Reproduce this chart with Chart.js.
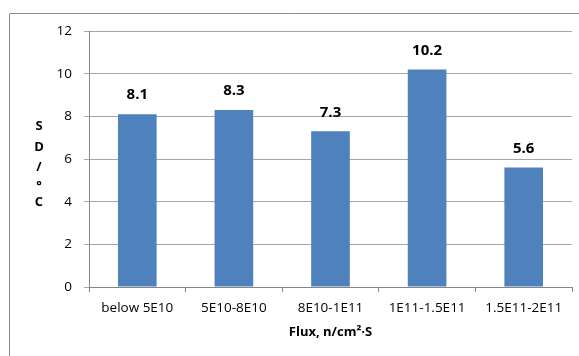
<!DOCTYPE html>
<html lang="en">
<head>
    <meta charset="UTF-8">
    <title>SD vs Flux</title>
    <script src="https://cdn.jsdelivr.net/npm/chart.js@4/dist/chart.umd.min.js"></script>
    <style>
        html, body { margin: 0; padding: 0; background: #fff; }
        #chart { display: block; }
    </style>
</head>
<body>
    <canvas id="chart" width="579" height="356"></canvas>
    <script>
        let categories = ['below 5E10', '5E10-8E10', '8E10-1E11', '1E11-1.5E11', '1.5E11-2E11'];
        let sdValues = [8.1, 8.3, 7.3, 10.2, 5.6];
        let yTicks = [0, 2, 4, 6, 8, 10, 12];
        let yTitle = ['S', 'D', '/', '°', 'C'];
        let xTitle = 'Flux, n/cm²·S';

        const fontFam = "'Open Sans', 'Liberation Sans', sans-serif";

        // outer frame, stacked y title and value labels
        const extras = {
            id: 'extras',
            beforeDraw(chart) {
                const c = chart.ctx;
                c.save();
                c.strokeStyle = '#8c8c8c';
                c.lineWidth = 1;
                c.beginPath();
                c.moveTo(9.5, 356);
                c.lineTo(9.5, 13.5);
                c.lineTo(579, 13.5);
                c.stroke();
                c.restore();
            },
            afterDatasetsDraw(chart) {
                const c = chart.ctx;
                c.save();
                c.fillStyle = '#000';
                c.textAlign = 'center';
                c.textBaseline = 'middle';
                c.font = 'bold 13px ' + fontFam;
                const ys = [126, 147, 167, 186, 202];
                yTitle.forEach((t, i) => c.fillText(t, 39, ys[i]));
                c.font = 'bold 15px ' + fontFam;
                const meta = chart.getDatasetMeta(0);
                meta.data.forEach((bar, i) => {
                    c.fillText(sdValues[i].toFixed(1), bar.x, bar.y - 19);
                });
                c.restore();
            }
        };

        new Chart(document.getElementById('chart'), {
            type: 'bar',
            data: {
                labels: categories,
                datasets: [{
                    data: sdValues,
                    backgroundColor: '#4f81bd',
                    borderWidth: 0,
                    barPercentage: 0.4,
                    categoryPercentage: 1
                }]
            },
            options: {
                responsive: false,
                animation: false,
                layout: { padding: { left: 0, right: 7, top: 31, bottom: 0 } },
                plugins: {
                    legend: { display: false },
                    tooltip: { enabled: false }
                },
                scales: {
                    x: {
                        afterFit(s) { s.height = 69; },
                        grid: {
                            offset: true,
                            drawOnChartArea: false,
                            tickLength: 5,
                            color: '#868686'
                        },
                        border: { color: '#868686' },
                        ticks: {
                            color: '#000',
                            padding: 8,
                            maxRotation: 0,
                            font: { family: fontFam, size: 13.5 }
                        },
                        title: {
                            display: true,
                            text: xTitle,
                            color: '#000',
                            padding: { top: 0, bottom: 16 },
                            font: { family: fontFam, size: 13, weight: 'bold' }
                        }
                    },
                    y: {
                        min: 0,
                        max: 12,
                        afterFit(s) { s.width = 89; },
                        afterBuildTicks(s) { s.ticks = yTicks.map(v => ({ value: v })); },
                        grid: {
                            color: '#a6a6a6',
                            tickLength: 5
                        },
                        border: { color: '#868686' },
                        ticks: {
                            color: '#000',
                            padding: 12,
                            font: { family: fontFam, size: 13.5 }
                        }
                    }
                }
            },
            plugins: [extras]
        });
    </script>
</body>
</html>
